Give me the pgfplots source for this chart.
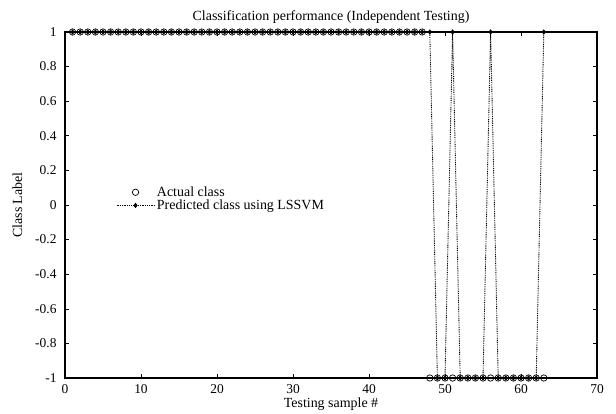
\documentclass[border=0pt]{standalone}
\usepackage{fontspec}
\setmainfont{Liberation Serif}
\usepackage{pgfplots}
\pgfplotsset{compat=1.18}
\pgfplotsset{mylegend/.style={legend image code/.code={\draw[mark repeat=2,mark phase=2,##1] plot coordinates {(0bp,0bp)(19bp,0bp)(38bp,0bp)};}}}
\begin{document}
\begin{tikzpicture}
\useasboundingbox (-65bp,-36bp) rectangle (551bp,378bp);
\begin{axis}[
  at={(0,0)}, anchor=south west,
  scale only axis, width=532bp, height=346bp,
  xmin=0, xmax=70, ymin=-1, ymax=1,
  xtick={0,10,...,70},
  ytick={-1,-0.8,-0.6,-0.4,-0.2,0,0.2,0.4,0.6,0.8,1},
  yticklabels={-1,-0.8,-0.6,-0.4,-0.2,0,0.2,0.4,0.6,0.8,1},
  tick align=inside, major tick length=4bp,
  axis line style={line width=1.1pt},
  tick style={black, line width=0.6pt},
  /pgf/number format/assume math mode=true,
  tick label style={font=\fontsize{13.5}{15}\selectfont},
  yticklabel style={xshift=-5bp},
  xticklabel style={yshift=-3bp},
  label style={font=\fontsize{14}{16}\selectfont},
  title style={font=\fontsize{14}{16}\selectfont, yshift=-1bp},
  title={Classification performance (Independent Testing)},
  xlabel={Testing sample \#},
  ylabel={Class Label},
  xlabel style={yshift=3bp},
  ylabel style={yshift=6bp},
  clip=false,
  legend cell align=left,
  legend style={draw=none, fill=none, at={(0.09,0.565)}, anchor=north west,
    font=\fontsize{14}{16}\selectfont, row sep=-2bp},
]
\addplot[only marks, mark=o, mark size=3.2bp, mark options={line width=0.7pt}, mylegend] coordinates {
(1,1)(2,1)(3,1)(4,1)(5,1)(6,1)(7,1)(8,1)(9,1)(10,1)
(11,1)(12,1)(13,1)(14,1)(15,1)(16,1)(17,1)(18,1)(19,1)(20,1)
(21,1)(22,1)(23,1)(24,1)(25,1)(26,1)(27,1)(28,1)(29,1)(30,1)
(31,1)(32,1)(33,1)(34,1)(35,1)(36,1)(37,1)(38,1)(39,1)(40,1)
(41,1)(42,1)(43,1)(44,1)(45,1)(46,1)(47,1)
(48,-1)(49,-1)(50,-1)(51,-1)(52,-1)(53,-1)(54,-1)(55,-1)
(56,-1)(57,-1)(58,-1)(59,-1)(60,-1)(61,-1)(62,-1)(63,-1)
};
\addlegendentry{Actual class}
\addplot[black, dash pattern=on 0.9pt off 0.9pt, line width=0.9pt, mark=diamond*, mark size=2bp, mark options={solid}, mylegend] coordinates {
(1,1)(2,1)(3,1)(4,1)(5,1)(6,1)(7,1)(8,1)(9,1)(10,1)
(11,1)(12,1)(13,1)(14,1)(15,1)(16,1)(17,1)(18,1)(19,1)(20,1)
(21,1)(22,1)(23,1)(24,1)(25,1)(26,1)(27,1)(28,1)(29,1)(30,1)
(31,1)(32,1)(33,1)(34,1)(35,1)(36,1)(37,1)(38,1)(39,1)(40,1)
(41,1)(42,1)(43,1)(44,1)(45,1)(46,1)(47,1)(48,1)
(49,-1)(50,-1)(51,1)(52,-1)(53,-1)(54,-1)(55,-1)
(56,1)(57,-1)(58,-1)(59,-1)(60,-1)(61,-1)(62,-1)(63,1)
};
\addlegendentry{Predicted class using LSSVM}
\end{axis}
\end{tikzpicture}
\end{document}
